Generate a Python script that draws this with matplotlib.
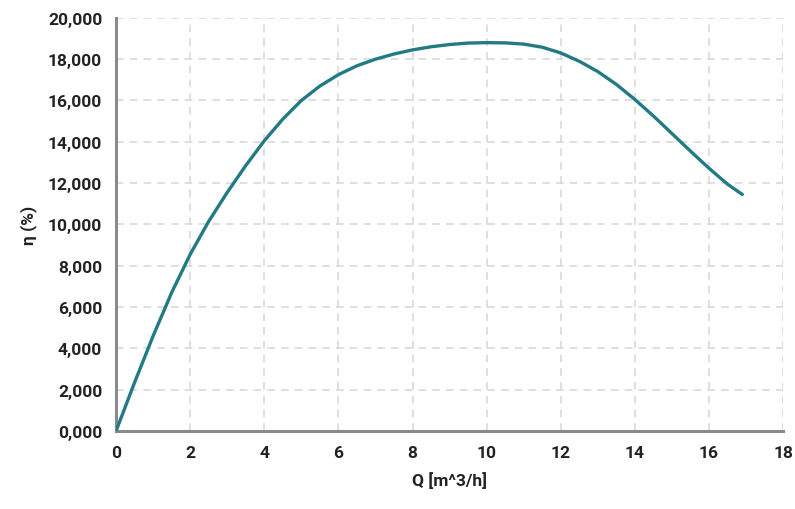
import matplotlib
matplotlib.use('Agg')
import matplotlib.pyplot as plt
from matplotlib.ticker import FuncFormatter

plt.rcParams['font.family'] = ['Roboto', 'DejaVu Sans']

# values (every 0.5 m^3/h)
flow = [0, 0.5, 1, 1.5, 2, 2.5, 3, 3.5, 4, 4.5, 5, 5.5, 6, 6.5, 7, 7.5, 8,
        8.5, 9, 9.5, 10, 10.5, 11, 11.5, 12, 12.5, 13, 13.5, 14, 14.5, 15,
        15.5, 16, 16.5, 16.9]
eff = [0, 2350, 4600, 6700, 8550, 10150, 11550, 12850, 14050, 15100, 16000,
       16700, 17250, 17680, 18000, 18250, 18450, 18600, 18710, 18780, 18800,
       18790, 18730, 18580, 18300, 17900, 17400, 16780, 16050, 15250, 14400,
       13550, 12720, 11950, 11450]

x_ticks = list(range(0, 19, 2))
y_ticks = list(range(0, 20001, 2000))

line_color = '#227b83'
grid_color = '#d6d6d6'
spine_color = '#8a8a8a'
text_color = '#222222'

fig = plt.figure(figsize=(7.95, 5.10), dpi=100)
ax = fig.add_axes([0.146, 0.153, 0.839, 0.810])

ax.plot(flow, eff, color=line_color, lw=2.4, solid_capstyle='round',
        solid_joinstyle='round', zorder=3)

ax.set_xlim(0, 18)
ax.set_ylim(0, 20000)
ax.set_xticks(x_ticks)
ax.set_yticks(y_ticks)
ax.yaxis.set_major_formatter(FuncFormatter(lambda v, p: f'{v/1000:.3f}'.replace('.', ',')))

ax.grid(True, color=grid_color, linestyle=(0, (5, 4)), lw=1.1)
ax.set_axisbelow(True)

for s in ['top', 'right']:
    ax.spines[s].set_visible(False)
for s in ['left', 'bottom']:
    ax.spines[s].set_color(spine_color)
    ax.spines[s].set_linewidth(2.2)

ax.tick_params(length=0, pad=10, labelsize=12.5, labelcolor=text_color)
for lbl in ax.get_xticklabels() + ax.get_yticklabels():
    lbl.set_fontweight('bold')

ax.set_xlabel('Q [m^3/h]', fontsize=12.5, fontweight='bold', color=text_color, labelpad=8)
ax.set_ylabel('η (%)', fontsize=12.5, fontweight='bold', color=text_color, labelpad=8)

fig.savefig('out.png', dpi=100)
